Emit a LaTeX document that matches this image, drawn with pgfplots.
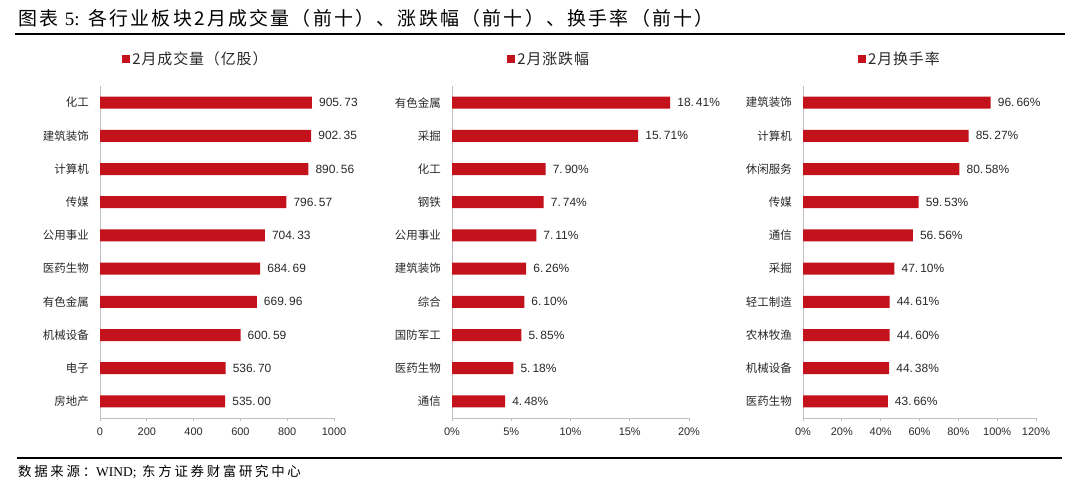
\documentclass[border=0pt]{standalone}
\usepackage{fontspec}
\setmainfont{Liberation Sans}
\newfontfamily\cjk{Noto Sans CJK SC}
\newfontfamily\cjkt[LetterSpace=12]{Noto Sans CJK SC}
\newfontfamily\cjkl[LetterSpace=6]{Noto Sans CJK SC}
\newfontfamily\cjks[LetterSpace=20]{Noto Sans CJK SC}
\newfontfamily\tms{Liberation Serif}
\usepackage{pgfplots}
\pgfplotsset{compat=1.18}
\definecolor{barred}{RGB}{196,18,28}
\definecolor{axgray}{RGB}{191,191,191}
\definecolor{txt}{RGB}{40,40,40}
\pgfplotsset{
  panel/.style={
    xbar, scale only axis, height=332bp,
    y dir=reverse, ymin=-0.5, ymax=9.5, ytick={0,...,9},
    minor ytick={-0.5,0.5,...,9.5},
    axis x line*=bottom, axis y line*=left,
    axis line style={axgray, line width=0.8bp},
    tick align=outside, major tick length=3bp, minor tick length=3bp,
    ytick style={draw=none},
    minor y tick style={axgray, line width=0.8bp},
    xtick style={axgray, line width=0.8bp},
    xmin=0, clip=false,
    bar width=12bp,
    point meta=x,
    nodes near coords align={horizontal},
    every node near coord/.append style={font=\fontsize{12}{14}\selectfont, text=txt, inner sep=0pt, xshift=7bp, anchor=west},
    yticklabel style={font=\cjk\fontsize{11.5}{13}\selectfont, text=txt, inner sep=0pt, xshift=-8bp},
    xticklabel style={font=\fontsize{11}{13}\selectfont, text=txt, inner sep=0pt, yshift=-7bp},
    legend style={draw=none, fill=none, anchor=center, font=\cjkl\fontsize{15}{17}\selectfont, text=txt, inner sep=0pt},
    legend image code/.code={\fill[barred] (0bp,-4bp) rectangle (8bp,4bp);},
  }
}
\begin{document}
\begin{tikzpicture}
\path (0,0) rectangle (1080bp,491bp);
\node[anchor=west, font=\cjkt\fontsize{19}{22}\selectfont, inner sep=0pt] at (18bp,473bp) {图表 {\tms 5:} 各行业板块2月成交量（前十）、涨跌幅（前十）、换手率（前十）};
\draw[line width=2bp] (15bp,457bp) -- (1065bp,457bp);
\draw[line width=2bp] (17bp,33bp) -- (1062bp,33bp);
\node[anchor=west, font=\cjks\fontsize{13.5}{15}\selectfont, inner sep=0pt] at (18bp,19bp) {数据来源：{\tms WIND;} 东方证券财富研究中心};

% Panel 1
\begin{axis}[panel, at={(100bp,73bp)}, anchor=south west, width=234bp,
  xmax=1000, xtick={0,200,...,1000},
  xticklabel={\pgfmathprintnumber[assume math mode=true,1000 sep={}]{\tick}},
  yticklabels={化工,建筑装饰,计算机,传媒,公用事业,医药生物,有色金属,机械设备,电子,房地产},
  nodes near coords={\pgfmathprintnumber[fixed,fixed zerofill,precision=2,1000 sep={},set decimal separator={.\hspace{2bp}},assume math mode=true]{\pgfplotspointmeta}},
  legend style={at={(0.41,1.081)}}]
\addplot[fill=barred, draw=none] coordinates {(905.73,0) (902.35,1) (890.56,2) (796.57,3) (704.33,4) (684.69,5) (669.96,6) (600.59,7) (536.70,8) (535.00,9)};
\addlegendentry{2月成交量（亿股）}
\end{axis}

% Panel 2
\begin{axis}[panel, at={(452bp,73bp)}, anchor=south west, width=237bp,
  xmax=20, xtick={0,5,...,20},
  xticklabel={\pgfmathprintnumber[assume math mode=true]{\tick}\%},
  yticklabels={有色金属,采掘,化工,钢铁,公用事业,建筑装饰,综合,国防军工,医药生物,通信},
  nodes near coords={\pgfmathprintnumber[fixed,fixed zerofill,precision=2,set decimal separator={.\hspace{2bp}},assume math mode=true]{\pgfplotspointmeta}\%},
  legend style={at={(0.41,1.081)}}]
\addplot[fill=barred, draw=none] coordinates {(18.41,0) (15.71,1) (7.90,2) (7.74,3) (7.11,4) (6.26,5) (6.10,6) (5.85,7) (5.18,8) (4.48,9)};
\addlegendentry{2月涨跌幅}
\end{axis}

% Panel 3
\begin{axis}[panel, at={(803bp,73bp)}, anchor=south west, width=233bp,
  xmax=120, xtick={0,20,...,120},
  xticklabel={\pgfmathprintnumber[assume math mode=true]{\tick}\%},
  yticklabels={建筑装饰,计算机,休闲服务,传媒,通信,采掘,轻工制造,农林牧渔,机械设备,医药生物},
  nodes near coords={\pgfmathprintnumber[fixed,fixed zerofill,precision=2,set decimal separator={.\hspace{2bp}},assume math mode=true]{\pgfplotspointmeta}\%},
  legend style={at={(0.416,1.081)}}]
\addplot[fill=barred, draw=none] coordinates {(96.66,0) (85.27,1) (80.58,2) (59.53,3) (56.56,4) (47.10,5) (44.61,6) (44.60,7) (44.38,8) (43.66,9)};
\addlegendentry{2月换手率}
\end{axis}
\end{tikzpicture}
\end{document}
